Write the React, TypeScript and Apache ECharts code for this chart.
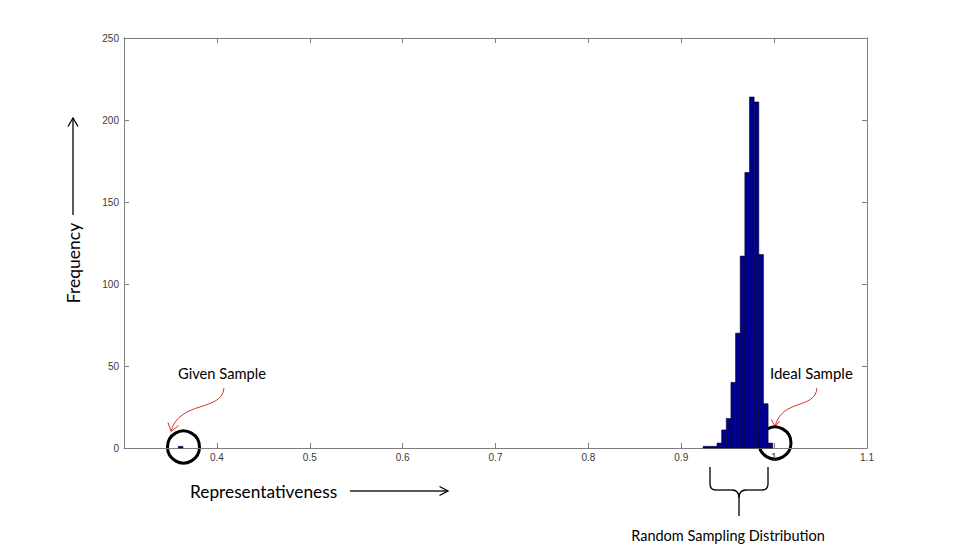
import React, { useEffect, useRef } from "react";
import * as echarts from "echarts";

// Histogram bins (centre of bin, frequency)
const binCenters = [0.361, 0.926, 0.931, 0.936, 0.941, 0.946, 0.951, 0.956, 0.961, 0.966, 0.971, 0.976, 0.981, 0.986, 0.991, 0.996];
const binCounts = [1, 1, 1, 1, 3, 11, 18, 40, 70, 117, 168, 214, 211, 118, 27, 3];
const BIN_WIDTH = 0.005;

const xTicks = { min: 0.3, max: 1.1, interval: 0.1 };
const yTicks = { min: 0, max: 250, interval: 50 };

const FONT = "Lato, 'Open Sans', sans-serif";
const RED = "#d8322e";

export default function App() {
  const ref = useRef<HTMLDivElement>(null);

  useEffect(() => {
    if (!ref.current) return;
    const chart = echarts.init(ref.current, null, { renderer: "svg" });

    const data = binCenters.map((c, i) => [c, binCounts[i]]);

    const axisLine = { show: true, onZero: false, lineStyle: { color: "#7d7d7d", width: 1 } };
    const tickStyle = { show: true, inside: true, length: 5, lineStyle: { color: "#7d7d7d", width: 1 } };

    const blackStroke = { stroke: "#000", lineWidth: 1.3, fill: "none" };
    const redStroke = { stroke: RED, lineWidth: 1, fill: "none" };

    chart.setOption({
      animation: false,
      backgroundColor: "#ffffff",
      grid: { left: 124, top: 38, right: 94, bottom: 110, containLabel: false },
      xAxis: [
        {
          type: "value",
          min: xTicks.min,
          max: xTicks.max,
          interval: xTicks.interval,
          axisLine,
          axisTick: tickStyle,
          splitLine: { show: false },
          axisLabel: {
            showMinLabel: false,
            color: "#3a3a3a",
            fontSize: 10,
            fontFamily: "'Liberation Sans', Arial, sans-serif",
            margin: 4,
            formatter: (v: number) => String(Math.round(v * 10) / 10),
          },
        },
        {
          type: "value",
          position: "top",
          min: xTicks.min,
          max: xTicks.max,
          interval: xTicks.interval,
          axisLine,
          axisTick: tickStyle,
          axisLabel: { show: false },
          splitLine: { show: false },
        },
      ],
      yAxis: [
        {
          type: "value",
          min: yTicks.min,
          max: yTicks.max,
          interval: yTicks.interval,
          axisLine,
          axisTick: tickStyle,
          splitLine: { show: false },
          axisLabel: {
            color: "#3a3a3a",
            fontSize: 10,
            fontFamily: "'Liberation Sans', Arial, sans-serif",
            margin: 5,
          },
        },
        {
          type: "value",
          position: "right",
          min: yTicks.min,
          max: yTicks.max,
          interval: yTicks.interval,
          axisLine,
          axisTick: tickStyle,
          axisLabel: { show: false },
          splitLine: { show: false },
        },
      ],
      series: [
        {
          type: "custom",
          xAxisIndex: 0,
          yAxisIndex: 0,
          data,
          renderItem: (params: any, api: any) => {
            const c = api.value(0);
            const n = api.value(1);
            const p0 = api.coord([c - BIN_WIDTH / 2, n]);
            const p1 = api.coord([c + BIN_WIDTH / 2, 0]);
            return {
              type: "rect",
              shape: { x: p0[0], y: p0[1], width: p1[0] - p0[0], height: p1[1] - p0[1] },
              style: { fill: "#00008f", stroke: "#000033", lineWidth: 0.6 },
            };
          },
        },
      ],
      graphic: [
        // Frequency label + arrow
        {
          type: "text",
          x: 73,
          y: 263,
          rotation: Math.PI / 2,
          style: { text: "Frequency", font: `17.5px ${FONT}`, fill: "#000", align: "center", verticalAlign: "middle" },
        },
        { type: "line", shape: { x1: 73, y1: 215, x2: 73, y2: 118 }, style: blackStroke },
        { type: "polyline", shape: { points: [[68, 126.5], [73, 118], [78, 126.5]] }, style: blackStroke },
        // Representativeness label + arrow
        {
          type: "text",
          x: 190,
          y: 491,
          style: { text: "Representativeness", font: `17.3px ${FONT}`, fill: "#000", align: "left", verticalAlign: "middle" },
        },
        { type: "line", shape: { x1: 350, y1: 491, x2: 447, y2: 491 }, style: { ...blackStroke, stroke: "#222" } },
        { type: "polyline", shape: { points: [[439.5, 486.5], [448, 491], [439.5, 495.5]] }, style: blackStroke },
        // Given sample
        {
          type: "text",
          x: 178,
          y: 373,
          style: { text: "Given Sample", font: `14.7px ${FONT}`, fill: "#000", align: "left", verticalAlign: "middle" },
        },
        {
          type: "bezierCurve",
          shape: { x1: 224, y1: 388, cpx1: 222, cpy1: 412, cpx2: 180, cpy2: 400, x2: 171, y2: 431 },
          style: redStroke,
        },
        { type: "polyline", shape: { points: [[168, 422.5], [171, 431.5], [178.5, 425.5]] }, style: redStroke },
        { type: "circle", shape: { cx: 183.5, cy: 447, r: 16 }, style: { stroke: "#000", lineWidth: 3, fill: "none" } },
        // Ideal sample
        {
          type: "text",
          x: 770,
          y: 373,
          style: { text: "Ideal Sample", font: `15px ${FONT}`, fill: "#000", align: "left", verticalAlign: "middle" },
        },
        {
          type: "bezierCurve",
          shape: { x1: 817, y1: 388, cpx1: 815, cpy1: 410, cpx2: 782, cpy2: 398, x2: 775, y2: 426.5 },
          style: redStroke,
        },
        { type: "polyline", shape: { points: [[771.5, 419.5], [775, 427], [779.5, 421]] }, style: redStroke },
        { type: "circle", shape: { cx: 775, cy: 443, r: 16 }, style: { stroke: "#000", lineWidth: 3, fill: "none" } },
        // Brace
        { type: "line", shape: { x1: 710, y1: 467, x2: 710, y2: 484 }, style: blackStroke },
        { type: "bezierCurve", shape: { x1: 710, y1: 484, cpx1: 710, cpy1: 490, x2: 716, y2: 490 }, style: blackStroke },
        { type: "line", shape: { x1: 716, y1: 490, x2: 732, y2: 490 }, style: blackStroke },
        { type: "bezierCurve", shape: { x1: 732, y1: 490, cpx1: 739, cpy1: 490, x2: 739, y2: 498 }, style: blackStroke },
        { type: "line", shape: { x1: 739, y1: 498, x2: 739, y2: 516 }, style: blackStroke },
        { type: "bezierCurve", shape: { x1: 746, y1: 490, cpx1: 739, cpy1: 490, x2: 739, y2: 498 }, style: blackStroke },
        { type: "line", shape: { x1: 746, y1: 490, x2: 762, y2: 490 }, style: blackStroke },
        { type: "bezierCurve", shape: { x1: 762, y1: 490, cpx1: 768, cpy1: 490, x2: 768, y2: 484 }, style: blackStroke },
        { type: "line", shape: { x1: 768, y1: 484, x2: 768, y2: 467 }, style: blackStroke },
        {
          type: "text",
          x: 728,
          y: 535,
          style: { text: "Random Sampling Distribution", font: `14.5px ${FONT}`, fill: "#000", align: "center", verticalAlign: "middle" },
        },
      ],
    });

    return () => chart.dispose();
  }, []);

  return <div ref={ref} style={{ position: "absolute", left: 0, top: 0, width: 961, height: 558 }} />;
}
